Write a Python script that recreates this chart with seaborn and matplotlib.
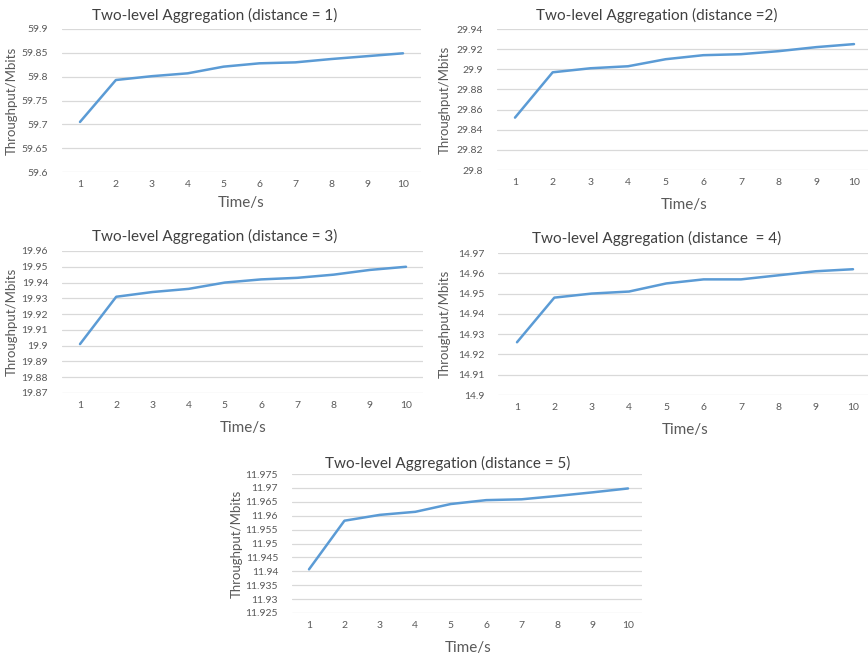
import numpy as np
import pandas as pd
import matplotlib
matplotlib.use("Agg")
import matplotlib.pyplot as plt
from matplotlib.ticker import FuncFormatter, MultipleLocator
import seaborn as sns

# Throughput over time for each aggregation distance
time_s = [1, 2, 3, 4, 5, 6, 7, 8, 9, 10]
tp_d1 = [59.705, 59.793, 59.801, 59.807, 59.821, 59.828, 59.830, 59.837, 59.843, 59.849]
tp_d2 = [29.852, 29.897, 29.901, 29.903, 29.910, 29.914, 29.915, 29.918, 29.922, 29.925]
tp_d3 = [19.901, 19.931, 19.934, 19.936, 19.940, 19.942, 19.943, 19.945, 19.948, 19.950]
tp_d4 = [14.926, 14.948, 14.950, 14.951, 14.955, 14.957, 14.957, 14.959, 14.961, 14.962]
tp_d5 = [11.9407, 11.9582, 11.9603, 11.9614, 11.9642, 11.9656, 11.9659, 11.9671, 11.9684, 11.9698]

titles = [
    "Two-level Aggregation (distance = 1)",
    "Two-level Aggregation (distance =2)",
    "Two-level Aggregation (distance = 3)",
    "Two-level Aggregation (distance  = 4)",
    "Two-level Aggregation (distance = 5)",
]
y_ranges = [(59.6, 59.9, 0.05), (29.8, 29.94, 0.02), (19.87, 19.96, 0.01),
            (14.9, 14.97, 0.01), (11.925, 11.975, 0.005)]
x_label = "Time/s"
y_label = "Throughput/Mbits"

sns.set_theme(style="white")
plt.rcParams["font.family"] = ["Lato", "DejaVu Sans"]

W, H = 868, 657
fig = plt.figure(figsize=(W / 100, H / 100), dpi=100)
fig.patch.set_facecolor("white")

line_color = "#5B9BD5"
grid_color = "#D9D9D9"
text_color = "#595959"

# pixel layout of each panel: grid left/right, x of first & last tick, y of top & bottom tick
layout = [
    dict(gl=62, gr=421, x1=80, x10=403, yt=29, yb=172, tx=215, ty=15, lx=12, xl=203),
    dict(gl=497, gr=868, x1=515, x10=854, yt=29, yb=170, tx=657, ty=15, lx=445, xl=205),
    dict(gl=62, gr=423, x1=80, x10=406, yt=251, yb=393, tx=215, ty=236, lx=12, xl=428),
    dict(gl=498, gr=868, x1=517, x10=853, yt=253, yb=395, tx=657, ty=238, lx=445, xl=430),
    dict(gl=292, gr=642, x1=309, x10=628, yt=474, yb=613, tx=448, ty=463, lx=237, xl=648),
]

series = [tp_d1, tp_d2, tp_d3, tp_d4, tp_d5]


def fmt(v, pos):
    return f"{v:.3f}".rstrip("0").rstrip(".")


for vals, title, (y0, y1, step), L in zip(series, titles, y_ranges, layout):
    ax = fig.add_axes([L["gl"] / W, 1 - L["yb"] / H,
                       (L["gr"] - L["gl"]) / W, (L["yb"] - L["yt"]) / H])
    df = pd.DataFrame({"t": time_s, "v": vals})
    sns.lineplot(data=df, x="t", y="v", ax=ax, color=line_color, lw=1.8)
    unit = (L["x10"] - L["x1"]) / 9
    ax.set_xlim(1 - (L["x1"] - L["gl"]) / unit, 10 + (L["gr"] - L["x10"]) / unit)
    ax.set_ylim(y0, y1)
    ax.set_xticks(time_s)
    ax.set_xticklabels([str(t) for t in time_s])
    ax.yaxis.set_major_locator(MultipleLocator(step))
    ax.yaxis.set_major_formatter(FuncFormatter(fmt))
    ax.grid(axis="y", color=grid_color, lw=0.9)
    ax.set_axisbelow(True)
    for sp in ax.spines.values():
        sp.set_visible(False)
    ax.tick_params(axis="both", length=0, labelsize=7.5, colors=text_color)
    ax.tick_params(axis="y", pad=10)
    ax.tick_params(axis="x", pad=6)
    ax.set_xlabel("")
    ax.set_ylabel("")
    fig.text(L["tx"] / W, 1 - L["ty"] / H, title, ha="center", va="center",
             fontsize=11, color="#404040")
    fig.text((L["x1"] + L["x10"]) / 2 / W, 1 - L["xl"] / H, x_label, ha="center",
             va="center", fontsize=11, color=text_color)
    fig.text(L["lx"] / W, 1 - (L["yt"] + L["yb"]) / 2 / H, y_label, ha="center",
             va="center", rotation=90, fontsize=9.5, color=text_color)

fig.savefig("out.png", dpi=100, facecolor="white")
